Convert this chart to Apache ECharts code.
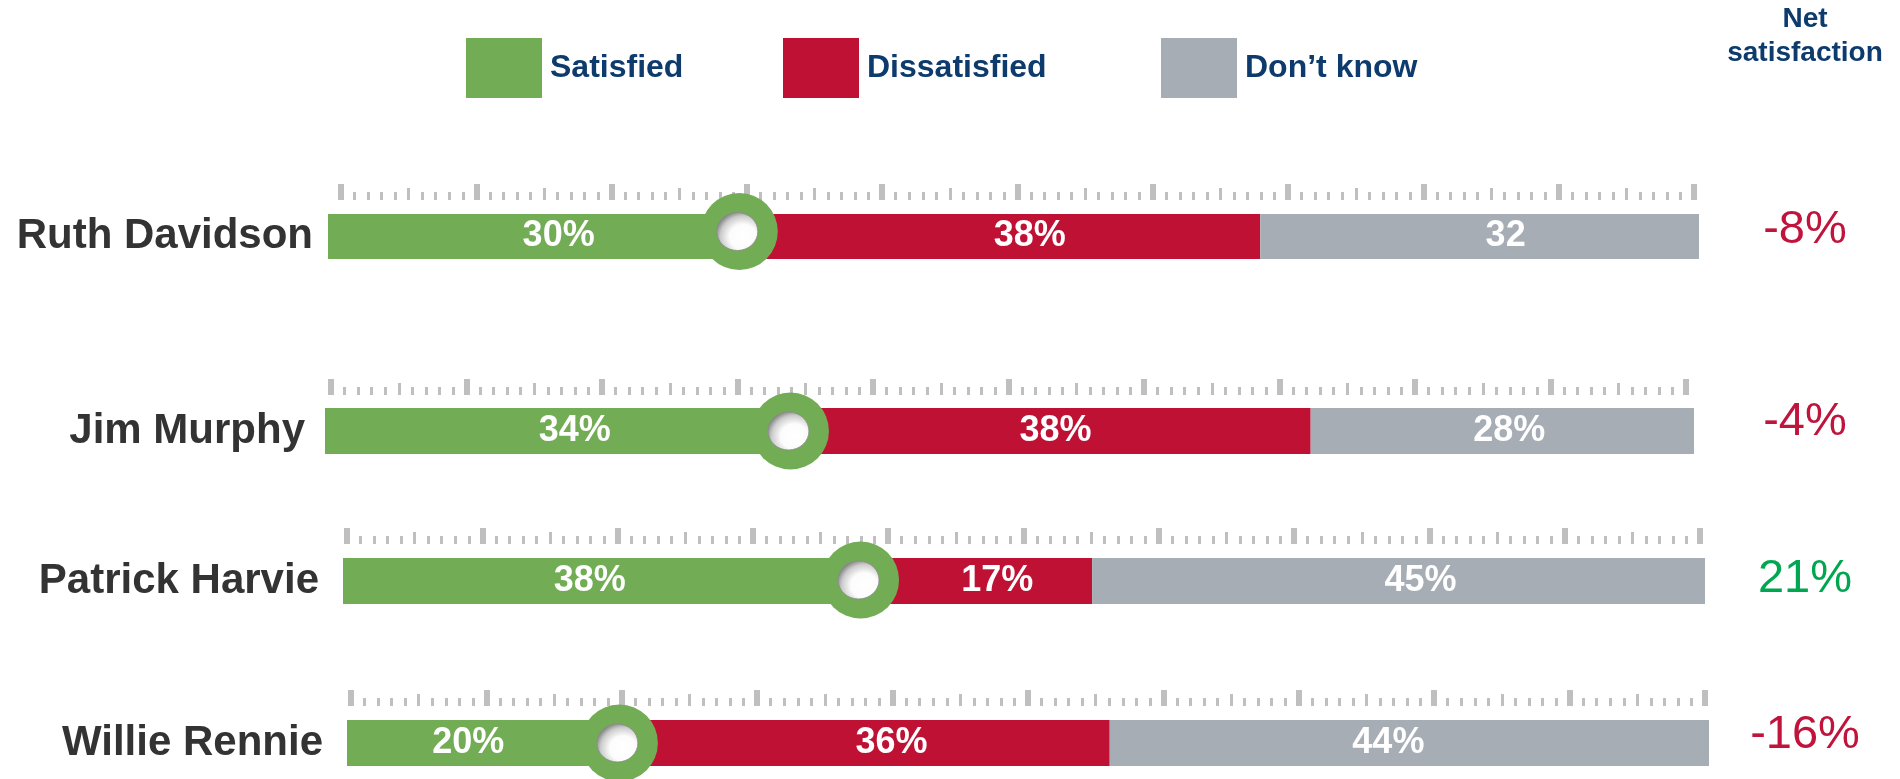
<!DOCTYPE html>
<html>
<head>
<meta charset="utf-8">
<title>Net satisfaction</title>
<script src="https://cdn.jsdelivr.net/npm/echarts@6/dist/echarts.min.js"></script>
<style>
  html, body { margin: 0; padding: 0; background: #fff; }
  #chart { width: 1900px; height: 779px; }
</style>
</head>
<body>
<div id="chart"></div>
<script>
// values
var leaders = ['Ruth Davidson', 'Jim Murphy', 'Patrick Harvie', 'Willie Rennie'];
var satisfied = [30, 34, 38, 20];
var dissatisfied = [38, 38, 17, 36];
var dontKnow = [32, 28, 45, 44];
var dontKnowText = ['32', '28%', '45%', '44%']; // the slide drops the % on the first one
var netSatisfaction = [-8, -4, 21, -16];
var seriesNames = ['Satisfied', 'Dissatisfied', 'Don\u2019t know'];

var FONT = "'Liberation Sans', Arial, Helvetica, sans-serif";
var colors = ['#72ac54', '#be1134', '#a6adb5'];
var navy = '#0d3b6e';
var tickGrey = '#bfbfbf';

// each row sits a little differently on the slide
// bar: [left, top, width, height], ruler: [left, baseline, width]
var rows = [
  { bar: [328, 214, 1371, 45], ruler: [341, 200, 1353], nameGap: 15, ringDy: -5, netDx: 106, netDy: -6, nudge: [25, 30, 26] },
  { bar: [325, 408, 1369, 46], ruler: [331, 395, 1355], nameGap: 20, ringDy: 0, netDx: 111, netDy: -9, nudge: [17, 5, 7] },
  { bar: [343, 558, 1362, 46], ruler: [347, 544, 1353], nameGap: 24, ringDy: -1, netDx: 100, netDy: -2, nudge: [-12, 21, 22] },
  { bar: [347, 720, 1362, 46], ruler: [351, 706, 1354], nameGap: 24, ringDy: 0, netDx: 96, netDy: -8, nudge: [-15, 27, -21] }
];

var grid = [], xAxis = [], yAxis = [], series = [];

rows.forEach(function (r, i) {
  var xi = i * 3, yi = i * 2;

  grid.push({ left: r.bar[0], top: r.bar[1], width: r.bar[2], height: r.bar[3], outerBoundsMode: 'none' });
  grid.push({ left: r.ruler[0], top: r.ruler[1], width: r.ruler[2], height: 1, outerBoundsMode: 'none' });

  xAxis.push({ gridIndex: i * 2, type: 'value', min: 0, max: 100, show: false });
  // ruler: big ticks every 10, small every 1
  xAxis.push({
    gridIndex: i * 2 + 1, type: 'value', min: 0, max: 100, interval: 10, position: 'top',
    axisLine: { show: false }, axisLabel: { show: false }, splitLine: { show: false },
    axisTick: { show: true, length: 16, lineStyle: { color: tickGrey, width: 6 } },
    minorTick: { show: true, splitNumber: 10, length: 8, lineStyle: { color: tickGrey, width: 3 } }
  });
  // medium ticks every 5
  xAxis.push({
    gridIndex: i * 2 + 1, type: 'value', min: 0, max: 100, interval: 5, position: 'top',
    axisLine: { show: false }, axisLabel: { show: false }, splitLine: { show: false },
    axisTick: { show: true, length: 12, lineStyle: { color: tickGrey, width: 3 } }
  });

  yAxis.push({
    gridIndex: i * 2, type: 'category', data: [leaders[i]],
    axisLine: { show: false }, axisTick: { show: false },
    axisLabel: { margin: r.nameGap, color: '#333333', fontSize: 42, fontWeight: 'bold', fontFamily: FONT }
  });
  yAxis.push({ gridIndex: i * 2 + 1, type: 'category', data: [''], show: false });

  var vals = [satisfied, dissatisfied, dontKnow];
  seriesNames.forEach(function (name, k) {
    series.push({
      name: name, type: 'bar', stack: 'row' + i,
      xAxisIndex: xi, yAxisIndex: yi,
      barWidth: '100%', barCategoryGap: 0,
      data: [vals[k][i]],
      itemStyle: { color: colors[k] },
      label: {
        show: true, position: 'inside', offset: [r.nudge[k], 0],
        color: '#fff', fontSize: 36, fontWeight: 'bold', fontFamily: FONT,
        formatter: k === 2 ? dontKnowText[i] : '{c}%'
      },
      silent: true
    });
  });

  // green ring sitting on the satisfied value
  series.push({
    type: 'scatter', xAxisIndex: xi, yAxisIndex: yi, z: 5, silent: true,
    data: [[satisfied[i], leaders[i]]],
    symbolSize: 77, symbolOffset: [0, r.ringDy],
    itemStyle: { color: colors[0], opacity: 1 }
  });
  series.push({
    type: 'scatter', xAxisIndex: xi, yAxisIndex: yi, z: 6, silent: true,
    data: [[satisfied[i], leaders[i]]],
    symbolSize: [41, 38], symbolOffset: [-2, r.ringDy],
    itemStyle: {
      opacity: 1,
      borderColor: '#8a8a8a', borderWidth: 0.8,
      color: {
        type: 'radial', x: 0.64, y: 0.64, r: 0.72,
        colorStops: [
          { offset: 0, color: '#ffffff' },
          { offset: 0.45, color: '#fcfcfc' },
          { offset: 0.75, color: '#cccccc' },
          { offset: 1, color: '#6e6e6e' }
        ]
      }
    }
  });

  // net satisfaction figure out to the right
  series.push({
    type: 'scatter', xAxisIndex: xi, yAxisIndex: yi, z: 5, silent: true,
    data: [[100, leaders[i]]],
    symbolSize: 1, itemStyle: { color: 'rgba(0,0,0,0)', opacity: 1 },
    label: {
      show: true, position: 'inside', offset: [r.netDx, r.netDy],
      formatter: netSatisfaction[i] + '%',
      color: netSatisfaction[i] < 0 ? '#c0143c' : '#00a650',
      fontSize: 47, fontFamily: FONT
    }
  });
});

var legendLeft = [466, 783, 1161];

var option = {
  animation: false,
  grid: grid,
  xAxis: xAxis,
  yAxis: yAxis,
  legend: seriesNames.map(function (n, k) {
    return {
      data: [n], left: legendLeft[k], top: 38, padding: 0,
      icon: 'rect', itemWidth: 76, itemHeight: 60, selectedMode: false,
      textStyle: { fontSize: 32, fontWeight: 'bold', color: navy, fontFamily: FONT, padding: [0, 0, 0, 3] }
    };
  }),
  graphic: [{
    type: 'text', x: 1805, y: 2,
    style: {
      text: 'Net\nsatisfaction', align: 'center', verticalAlign: 'top',
      fill: navy, fontSize: 28, fontWeight: 'bold', fontFamily: FONT, lineHeight: 34
    }
  }],
  series: series
};

var chart = echarts.init(document.getElementById('chart'));
chart.setOption(option);
window.onresize = function () { chart.resize(); };
</script>
</body>
</html>
